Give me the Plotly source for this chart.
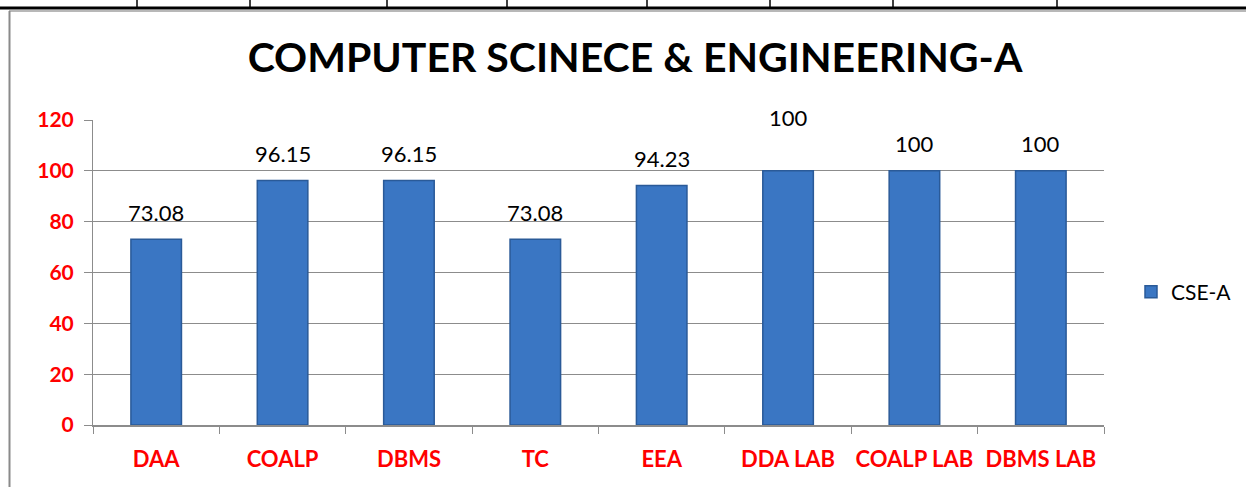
import plotly.graph_objects as go

categories = ["DAA", "COALP", "DBMS", "TC", "EEA", "DDA LAB", "COALP LAB", "DBMS LAB"]
values = [73.08, 96.15, 96.15, 73.08, 94.23, 100, 100, 100]
value_labels = ["73.08", "96.15", "96.15", "73.08", "94.23", "100", "100", "100"]
label_shift = [27, 27, 27, 27, 27, 53, 27, 27]
y_ticks = [0, 20, 40, 60, 80, 100, 120]
series_name = "CSE-A"

W, H = 1246, 487
L, R, T, B = 93, 142, 120, 62
pw, ph = W - L - R, H - T - B

def px(x):
    return (x - L) / pw

def py(y):
    return (H - B - y) / ph

FONT = "Lato"

fig = go.Figure()
fig.add_trace(go.Bar(
    x=categories, y=values, name=series_name, width=0.4,
    marker=dict(color="#3A76C3", line=dict(color="#2A5A98", width=1.5)),
))

for c, v, t, s in zip(categories, values, value_labels, label_shift):
    fig.add_annotation(x=c, y=v, text=t, showarrow=False, yshift=s,
                       yanchor="middle", font=dict(family=FONT, size=22, color="#000000"))

shapes = []
# top table border
shapes.append(dict(type="line", xref="paper", yref="paper", x0=px(0), x1=px(W), y0=py(8), y1=py(8),
                   line=dict(color="black", width=3)))
for xv in [137, 250, 387, 507, 647, 770, 893, 1057]:
    shapes.append(dict(type="line", xref="paper", yref="paper", x0=px(xv), x1=px(xv), y0=py(0), y1=py(8),
                       line=dict(color="black", width=1.5)))
# chart area border
shapes.append(dict(type="line", xref="paper", yref="paper", x0=px(9), x1=px(W), y0=py(11), y1=py(11),
                   line=dict(color="#A0A0A0", width=1.5)))
shapes.append(dict(type="line", xref="paper", yref="paper", x0=px(9.5), x1=px(9.5), y0=py(11), y1=py(H),
                   line=dict(color="#8A8A8A", width=2)))

fig.update_layout(
    width=W, height=H,
    margin=dict(l=L, r=R, t=T, b=B, autoexpand=False),
    paper_bgcolor="white", plot_bgcolor="white",
    title=dict(text="<b>COMPUTER SCINECE & ENGINEERING-A</b>", xref="container", x=635 / W,
               xanchor="center", yref="container", y=1 - 58 / H, yanchor="middle",
               font=dict(family=FONT, size=41, color="black")),
    showlegend=True,
    legend=dict(x=px(1131), y=py(292), xanchor="left", yanchor="middle",
                font=dict(family=FONT, size=21, color="black"), itemwidth=30),
    shapes=shapes,
    bargap=0.6,
)
fig.update_yaxes(range=[0, 120], tickvals=y_ticks, showgrid=True, gridcolor="#8C8C8C", gridwidth=1,
                 showline=True, linecolor="#8C8C8C", linewidth=1, ticks="outside", ticklen=8,
                 tickcolor="#8C8C8C",
                 tickfont=dict(family=FONT, size=21, color="#FF0000", weight="bold"),
                 ticklabelstandoff=6, zeroline=False, automargin=False)
fig.update_xaxes(showline=True, linecolor="#8C8C8C", linewidth=1.5, ticks="outside", ticklen=7,
                 tickcolor="#8C8C8C", tickson="boundaries", tickangle=0,
                 tickfont=dict(family=FONT, size=22, color="#FF0000", weight="bold"),
                 ticklabelstandoff=14, automargin=False)

fig.write_html("out.html", config={"displayModeBar": False},
               post_script="document.body.style.margin='0';document.body.style.overflow='hidden';")
